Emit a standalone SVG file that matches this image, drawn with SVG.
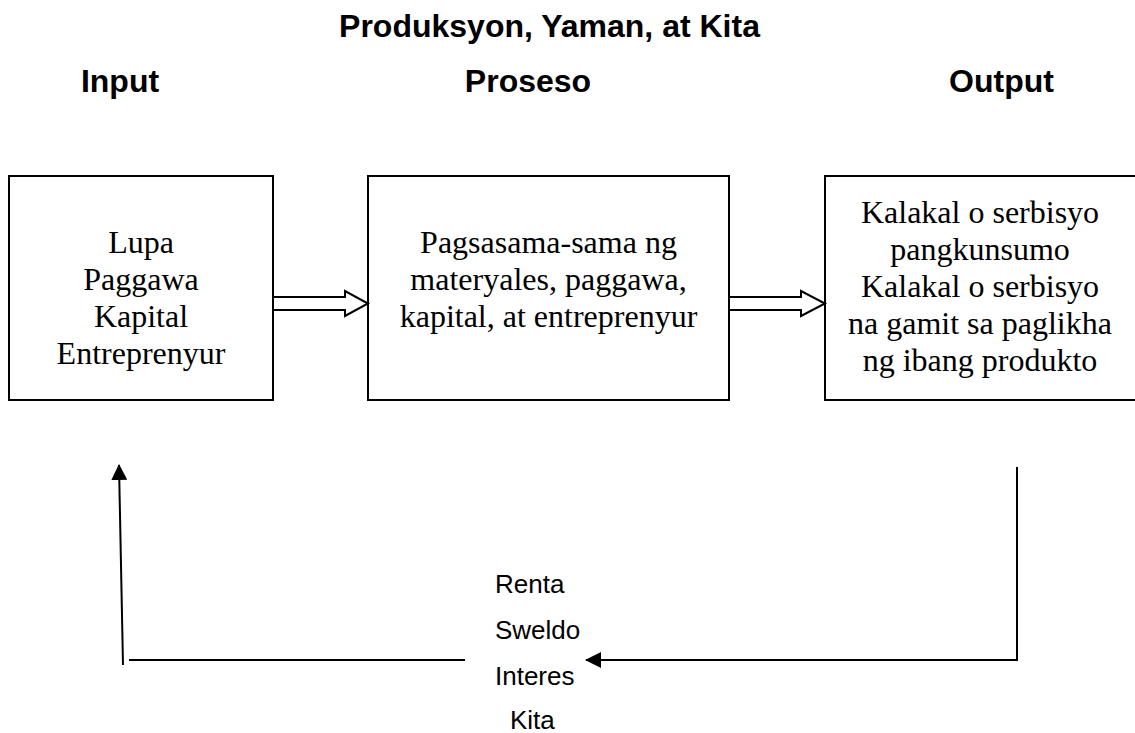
<svg xmlns="http://www.w3.org/2000/svg" width="1135" height="733" viewBox="0 0 1135 733">
<style>
.h{font-family:"Liberation Sans",Arial,sans-serif;font-weight:bold;font-size:32px;fill:#000;text-anchor:middle}
.b{font-family:"Liberation Serif","Times New Roman",serif;font-size:32px;fill:#000;text-anchor:middle}
.s{font-family:"Liberation Sans",Arial,sans-serif;font-size:26px;fill:#000}
.box{fill:#fff;stroke:#000;stroke-width:2}
.blk{fill:#fff;stroke:#000;stroke-width:2;stroke-linejoin:miter}
.ln{fill:none;stroke:#000;stroke-width:2}
</style>
<defs>
<marker id="ah" viewBox="0 0 16 16" refX="15" refY="8" markerWidth="16" markerHeight="16" markerUnits="userSpaceOnUse" orient="auto">
<path d="M0,0 L16,8 L0,16 Z" fill="#000"/>
</marker>
</defs>
<rect width="1135" height="733" fill="#fff"/>
<g id="title">
<text class="h" x="549.5" y="37">Produksyon, Yaman, at Kita</text>
<text class="h" x="120" y="92">Input</text>
<text class="h" x="528" y="92">Proseso</text>
<text class="h" x="1001.5" y="92">Output</text>
</g>
<g id="node-input">
<rect class="box" x="9" y="176" width="264" height="224"/>
<text class="b" x="141" y="253">Lupa</text>
<text class="b" x="141" y="290">Paggawa</text>
<text class="b" x="141" y="327">Kapital</text>
<text class="b" x="141" y="364">Entreprenyur</text>
</g>
<g id="node-proseso">
<rect class="box" x="368" y="176" width="361" height="224"/>
<text class="b" x="548.5" y="253">Pagsasama-sama ng</text>
<text class="b" x="548.5" y="290">materyales, paggawa,</text>
<text class="b" x="548.5" y="327">kapital, at entreprenyur</text>
</g>
<g id="node-output">
<rect class="box" x="825" y="176" width="315" height="224"/>
<text class="b" x="980" y="223">Kalakal o serbisyo</text>
<text class="b" x="980" y="260">pangkunsumo</text>
<text class="b" x="980" y="297">Kalakal o serbisyo</text>
<text class="b" x="980" y="334">na gamit sa paglikha</text>
<text class="b" x="980" y="371">ng ibang produkto</text>
</g>
<g id="node-kita">
<text class="s" x="495" y="593">Renta</text>
<text class="s" x="495" y="639">Sweldo</text>
<text class="s" x="495" y="685">Interes</text>
<text class="s" x="510" y="729">Kita</text>
</g>
<g id="connectors">
<polygon class="blk" points="273,297 345,297 345,291 368,303.5 345,316 345,310 273,310"/>
<polygon class="blk" points="729,297 801,297 801,291 825,303.5 801,316 801,310 729,310"/>
<polyline class="ln" points="1017,467 1017,660 586,660" marker-end="url(#ah)"/>
<line class="ln" x1="129" y1="660" x2="465" y2="660"/>
<line class="ln" x1="123" y1="665" x2="119" y2="465" marker-end="url(#ah)"/>
</g>
</svg>
